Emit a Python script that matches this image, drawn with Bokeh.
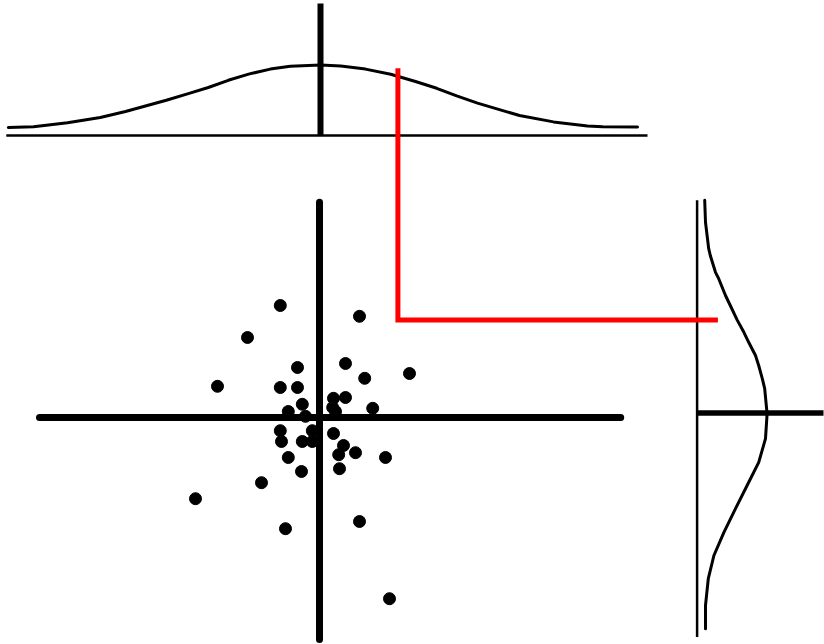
from bokeh.plotting import figure
from bokeh.models import Range1d
from bokeh.embed import file_html
from bokeh.resources import INLINE

# --- scatter sample (centred on the mean, arbitrary units) ---
scatter_x = [-0.98, 1.0, -1.8, -0.55, 0.65, 2.25, 1.13, -2.55, -0.98, -0.55,
             0.35, 0.65, -0.43, 0.33, 0.4, 1.33, -0.78, -0.35, -0.98, -0.18,
             0.35, -0.95, -0.43, -0.18, 0.6, 0.48, 0.9, 1.65, -0.78, -0.45,
             0.5, -1.45, -3.1, -0.85, 1.0, 1.75]
scatter_y = [2.8, 2.53, 2.0, 1.25, 1.35, 1.1, 0.98, 0.78, 0.75, 0.75,
             0.48, 0.5, 0.33, 0.25, 0.15, 0.23, 0.15, 0.03, -0.33, -0.33,
             -0.4, -0.6, -0.6, -0.6, -0.7, -0.93, -0.88, -1.0, -1.0, -1.35,
             -1.28, -1.63, -2.03, -2.78, -2.6, -4.53]

# --- marginal density of x ---
top_curve_x = [-7.78, -7.15, -6.3, -5.48, -4.85, -3.83, -3.3, -2.78, -2.28, -1.75,
               -1.23, -0.73, 0.03, 0.53, 1.15, 1.78, 2.4, 2.93, 3.43, 3.95,
               5.0, 5.85, 6.7, 7.08, 7.95]
top_curve_h = [0.2, 0.22, 0.32, 0.45, 0.6, 0.88, 1.04, 1.2, 1.38, 1.54,
               1.66, 1.73, 1.76, 1.74, 1.66, 1.53, 1.35, 1.18, 0.99, 0.81,
               0.5, 0.34, 0.24, 0.22, 0.21]

# --- marginal density of y ---
right_curve_y = [5.43, 4.88, 4.22, 4.05, 3.63, 3.47, 3.05, 2.8, 2.44, 2.13,
                 1.88, 1.55, 1.3, 0.97, 0.72, 0.09, -0.53, -1.12, -1.7, -2.28,
                 -2.87, -3.45, -4.03, -4.7, -5.28]
right_curve_w = [0.19, 0.21, 0.29, 0.33, 0.46, 0.54, 0.71, 0.83, 1.0, 1.17,
                 1.29, 1.46, 1.54, 1.63, 1.69, 1.75, 1.71, 1.54, 1.25, 0.96,
                 0.67, 0.42, 0.28, 0.21, 0.21]

# selected point (red guide)
sel_x = 1.96
sel_y = 2.44

# layout offsets of the marginal panels
TOP_BASE = 7.05
RIGHT_BASE = 9.44

p = figure(width=824, height=644, x_range=Range1d(-7.975, 12.625),
           y_range=Range1d(-5.675, 10.425), x_axis_type=None, y_axis_type=None,
           toolbar_location=None, output_backend="svg")
p.min_border = 0
p.outline_line_color = None
p.background_fill_color = "white"
p.border_fill_color = "white"

# main cross axes
p.line([-7.0, 7.53], [0, 0], line_color="black", line_width=7, line_cap="round")
p.line([0, 0], [5.38, -5.55], line_color="black", line_width=7, line_cap="round")

# scatter
p.scatter(scatter_x, scatter_y, marker="circle", size=12, fill_color="black", line_color="black")

# top marginal
p.line([-7.83, 8.2], [TOP_BASE, TOP_BASE], line_color="black", line_width=2.5)
p.line([0.025, 0.025], [TOP_BASE, 10.35], line_color="black", line_width=6)
p.line(top_curve_x, [TOP_BASE + h for h in top_curve_h], line_color="black", line_width=3,
       line_join="round", line_cap="round")

# right marginal
p.line([RIGHT_BASE, RIGHT_BASE], [5.43, -5.49], line_color="black", line_width=2.5)
p.line([RIGHT_BASE, 12.6], [0.11, 0.11], line_color="black", line_width=5.5)
p.line([RIGHT_BASE + w for w in right_curve_w], right_curve_y, line_color="black", line_width=3,
       line_join="round", line_cap="round")

# red guide
p.line([sel_x, sel_x, 9.96], [8.73, sel_y, sel_y], line_color="#ff0000", line_width=5,
       line_join="miter")

open("out.html", "w").write(file_html(p, INLINE))
